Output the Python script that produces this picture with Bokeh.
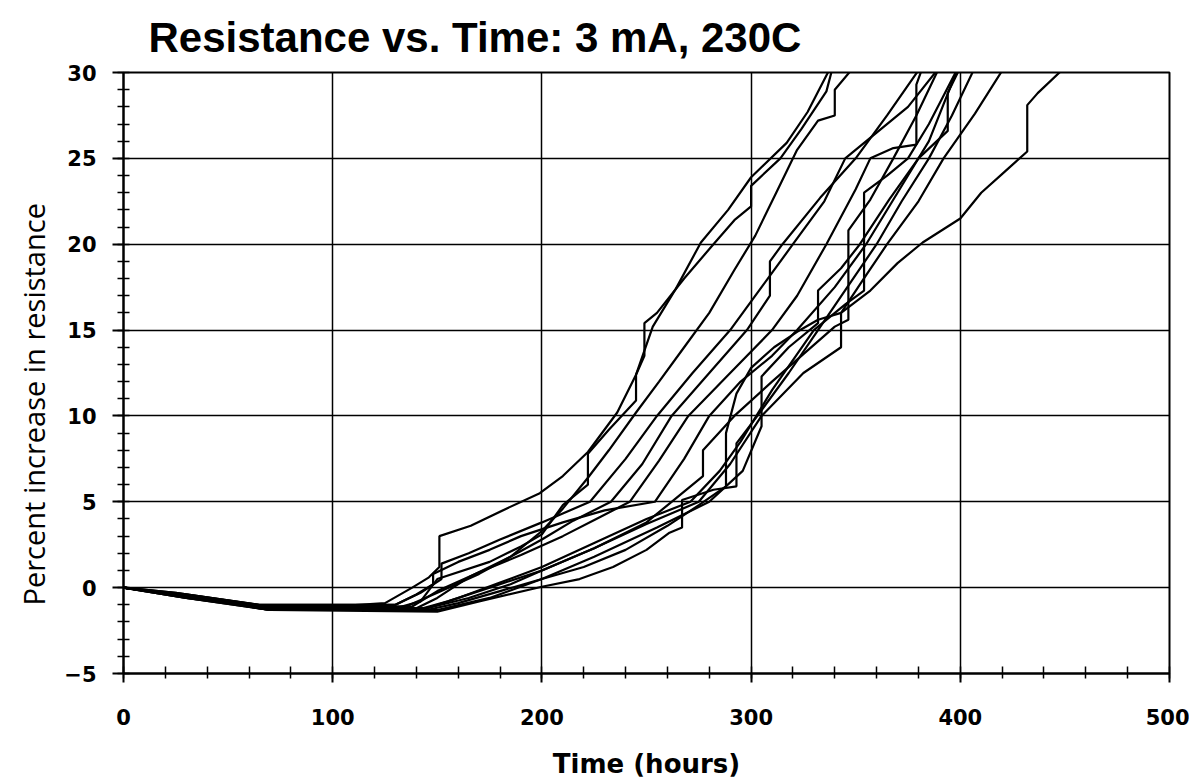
from bokeh.plotting import figure
from bokeh.models import Range1d, SingleIntervalTicker, Title
from bokeh.embed import file_html
from bokeh.resources import INLINE

title_text = "Resistance vs. Time: 3 mA, 230C"
x_label = "Time (hours)"
y_label = "Percent increase in resistance"

# Time (hours) / percent increase in resistance, one pair per sample
time_1 = [0, 20, 45, 65, 100, 125, 138, 146, 151, 151, 166, 183, 199, 210, 222, 236, 245, 253, 264, 276, 289, 300, 317, 327, 338]
pct_1 = [0, -0.3, -0.8, -1.1, -1.1, -0.9, 0.0, 0.6, 1.2, 3.0, 3.6, 4.6, 5.5, 6.5, 7.9, 10.2, 12.4, 15.2, 17.4, 20.1, 22.0, 23.9, 25.9, 27.7, 30.3]

time_2 = [0, 30, 70, 130, 142, 150, 175, 190, 200, 210, 222, 222, 232, 245, 245, 249, 249, 255, 268, 282, 292, 300, 300, 314, 324, 336, 339]
pct_2 = [0, -0.6, -1.2, -1.2, -0.8, 0.5, 1.5, 2.4, 3.1, 4.8, 6.0, 7.8, 9.2, 10.9, 12.4, 13.5, 15.4, 16.0, 18.0, 20.0, 21.4, 22.2, 23.4, 25.0, 26.7, 28.9, 30.3]

time_3 = [0, 30, 70, 135, 150, 170, 185, 200, 210, 222, 232, 245, 256, 268, 280, 292, 302, 312, 322, 332, 340, 340, 349]
pct_3 = [0, -0.5, -1.1, -1.1, -0.3, 0.8, 1.8, 3.3, 4.6, 6.4, 8.0, 10.2, 12.0, 14.0, 16.0, 18.5, 20.5, 23.0, 25.5, 27.2, 27.5, 29.0, 30.3]

time_4 = [0, 30, 70, 140, 150, 165, 185, 200, 215, 233, 248, 262, 280, 298, 309, 309, 315, 333, 350, 365, 381]
pct_4 = [0, -0.5, -1.2, -1.2, -0.6, 0.6, 1.8, 2.8, 3.9, 5.0, 7.2, 10.0, 12.5, 15.0, 17.0, 19.0, 20.0, 22.7, 25.0, 27.5, 30.3]

time_5 = [0, 30, 70, 138, 150, 170, 190, 210, 226, 242, 256, 270, 290, 310, 322, 336, 350, 357, 368, 379, 379, 382]
pct_5 = [0, -0.4, -1.1, -1.1, -0.2, 0.9, 1.9, 3.0, 4.0, 5.0, 7.4, 10.0, 12.5, 15.0, 17.0, 20.0, 23.2, 25.0, 25.6, 25.8, 29.3, 30.3]

time_6 = [0, 30, 70, 140, 155, 175, 200, 225, 250, 262, 277, 277, 292, 310, 325, 340, 346.5, 346.5, 357, 368, 379, 390]
pct_6 = [0, -0.5, -1.3, -1.3, -0.8, 0.0, 1.0, 2.3, 3.8, 5.0, 6.5, 8.0, 10.0, 12.0, 13.6, 15.2, 15.6, 20.8, 22.6, 25.0, 27.5, 30.3]

time_7 = [0, 30, 70, 145, 160, 180, 200, 225, 250, 271, 285, 295, 310, 330, 345, 354, 354, 365, 375, 385, 399]
pct_7 = [0, -0.5, -1.2, -1.2, -0.6, 0.3, 1.2, 2.6, 4.0, 5.0, 6.8, 8.5, 11.5, 15.0, 16.5, 17.3, 23.0, 24.0, 25.0, 27.0, 30.3]

time_8 = [0, 30, 70, 145, 160, 180, 200, 225, 255, 280, 296, 305, 305, 318, 332, 332, 343, 352, 366, 380, 394, 394, 400]
pct_8 = [0, -0.6, -1.3, -1.3, -0.9, -0.2, 0.5, 1.8, 3.5, 5.0, 6.8, 9.4, 12.3, 14.0, 15.4, 17.3, 18.6, 20.0, 22.6, 25.0, 26.6, 28.8, 30.3]

time_9 = [0, 30, 70, 150, 170, 200, 218, 234, 250, 261, 267, 267, 282, 293, 293, 303, 318, 332, 346, 360, 372, 385, 396, 407]
pct_9 = [0, -0.5, -1.3, -1.4, -0.8, 0.05, 0.5, 1.2, 2.2, 3.2, 3.5, 5.1, 5.7, 5.9, 8.4, 10.0, 12.5, 15.0, 17.5, 20.0, 22.5, 25.0, 27.5, 30.3]

time_10 = [0, 30, 70, 145, 165, 185, 200, 225, 250, 275, 290, 305, 325, 343, 343, 355, 365, 380, 392, 407, 421]
pct_10 = [0, -0.5, -1.2, -1.2, -0.6, 0.2, 1.0, 2.3, 3.7, 5.0, 7.2, 10.0, 12.5, 14.0, 16.0, 18.2, 20.0, 22.5, 25.0, 27.6, 30.3]

time_11 = [0, 30, 70, 150, 175, 200, 220, 240, 260, 275, 288, 288, 293, 300, 311, 322, 332, 343, 357, 370, 382, 400, 410, 421, 432, 432, 437, 450]
pct_11 = [0, -0.6, -1.3, -1.3, -0.6, 0.5, 1.2, 2.2, 3.6, 4.8, 5.9, 9.0, 11.3, 12.8, 14.0, 14.9, 15.6, 16.0, 17.3, 18.9, 20.1, 21.5, 23.0, 24.2, 25.4, 28.1, 28.8, 30.3]

time_12 = [0, 25, 65, 130, 142, 152, 152, 165, 180, 200, 223, 240, 255, 272, 290, 305, 320, 335, 345, 360, 375, 390]
pct_12 = [0, -0.3, -1.0, -1.0, -0.3, 0.5, 1.4, 2.0, 2.8, 3.8, 5.0, 7.5, 10.0, 12.5, 15.0, 17.5, 20.0, 22.5, 25.0, 26.5, 28.0, 30.3]

time_13 = [0, 25, 65, 130, 140, 148, 148, 160, 175, 190, 210, 230, 254, 268, 280, 295, 310, 322, 340, 355, 370, 385, 399]
pct_13 = [0, -0.3, -1.0, -1.0, -0.4, 0.2, 0.8, 1.5, 2.2, 3.0, 3.8, 4.5, 5.0, 7.5, 10.0, 12.0, 13.5, 15.0, 17.5, 20.0, 23.0, 26.0, 30.3]

series = [
    (time_1, pct_1), (time_2, pct_2), (time_3, pct_3), (time_4, pct_4),
    (time_5, pct_5), (time_6, pct_6), (time_7, pct_7), (time_8, pct_8),
    (time_9, pct_9), (time_10, pct_10), (time_11, pct_11), (time_12, pct_12),
    (time_13, pct_13),
]

p = figure(width=1189, height=781, output_backend="svg", toolbar_location=None,
           x_range=Range1d(0, 500), y_range=Range1d(-5, 30),
           min_border_left=123, min_border_right=20, min_border_top=72, min_border_bottom=107)

p.title.text = title_text
p.title.text_font = "Liberation Sans"
p.title.text_font_style = "bold"
p.title.text_font_size = "42px"
p.title.align = "left"
p.title.offset = 25
p.title.standoff = 23
p.title.text_color = "black"

ytitle = Title(text=y_label, align="left", offset=68, standoff=18,
               text_font="Open Sans", text_font_style="normal",
               text_font_size="29px", text_color="black")
p.add_layout(ytitle, "left")

p.outline_line_color = "black"
p.outline_line_width = 2
p.outline_line_alpha = 1.0

for t, v in series:
    p.line(t, v, line_color="black", line_width=2.2)

p.xaxis.ticker = SingleIntervalTicker(interval=100, num_minor_ticks=5)
p.yaxis.ticker = SingleIntervalTicker(interval=5, num_minor_ticks=5)

for ax in (p.xaxis[0], p.yaxis[0]):
    ax.axis_line_color = "black"
    ax.axis_line_width = 2
    ax.major_tick_line_color = "black"
    ax.major_tick_line_width = 2
    ax.minor_tick_line_color = "black"
    ax.minor_tick_line_width = 1.5
    ax.major_label_text_font = "DejaVu Sans"
    ax.major_label_text_font_style = "bold"
    ax.major_label_text_font_size = "21px"
    ax.major_label_text_color = "black"

p.xaxis.major_tick_in = 0
p.xaxis.major_tick_out = 9
p.xaxis.minor_tick_in = 7
p.xaxis.minor_tick_out = 5
p.xaxis.major_label_standoff = 26
p.xaxis.axis_label = x_label
p.xaxis.axis_label_text_font = "DejaVu Sans"
p.xaxis.axis_label_text_font_style = "bold"
p.xaxis.axis_label_text_font_size = "26px"
p.xaxis.axis_label_text_color = "black"
p.xaxis.axis_label_standoff = 21

p.yaxis.major_tick_in = 0
p.yaxis.major_tick_out = 11
p.yaxis.minor_tick_in = 6
p.yaxis.minor_tick_out = 6
p.yaxis.major_label_standoff = 16

p.xgrid.grid_line_color = "black"
p.xgrid.grid_line_width = 1.5
p.xgrid.grid_line_alpha = 1.0
p.ygrid.grid_line_color = "black"
p.ygrid.grid_line_width = 1.5
p.ygrid.grid_line_alpha = 1.0

open("out.html", "w").write(file_html(p, INLINE))
